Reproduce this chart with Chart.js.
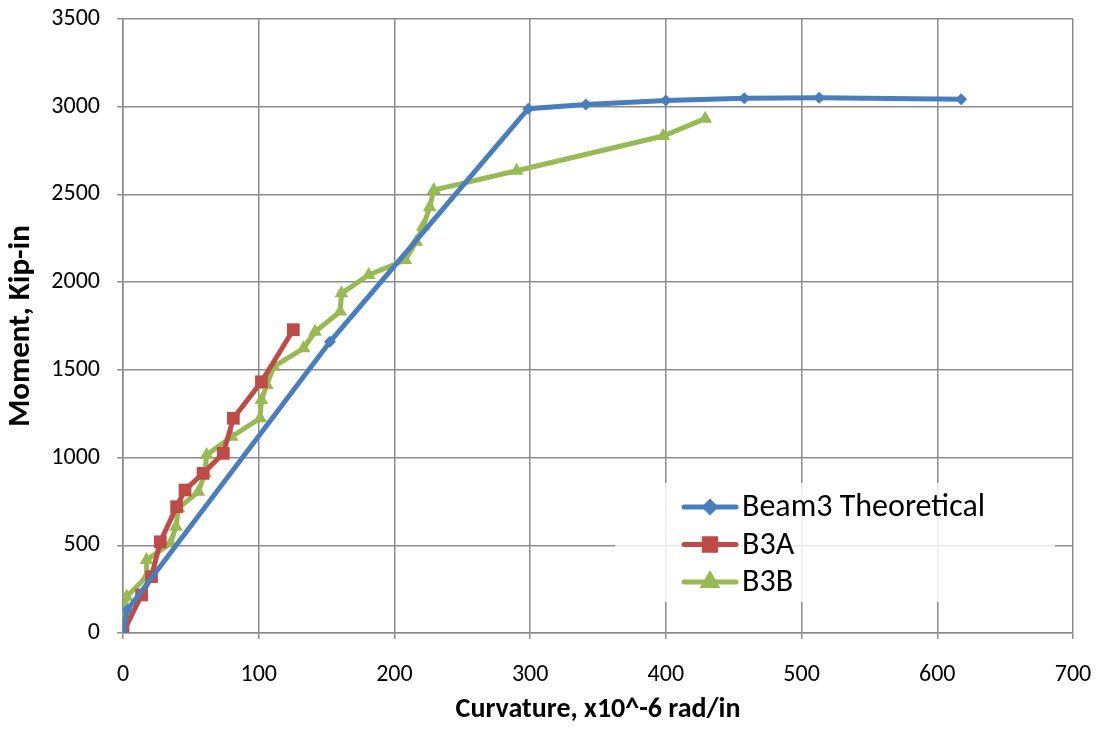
<!DOCTYPE html>
<html>
<head>
<meta charset="utf-8">
<script src="https://cdn.jsdelivr.net/npm/chart.js@4/dist/chart.umd.min.js"></script>
<style>
  html, body { margin: 0; padding: 0; background: #fff; }
  #wrap { width: 1103px; height: 729px; }
</style>
</head>
<body>
<div id="wrap"><canvas id="chart" width="1103" height="729"></canvas></div>
<script>
// Beam3 theoretical curve
const theoX = [0, 3, 152.5, 298.6, 341, 400, 457.8, 513, 617.6];
const theoY = [0, 130, 1660, 2989, 3013, 3035, 3048, 3051, 3042];
// B3A test
const b3aX = [0, 13.7, 21, 27.5, 39.5, 45.7, 59, 73.9, 81.3, 102, 125.5];
const b3aY = [0, 217, 321, 520, 720, 815, 910, 1024, 1224, 1432, 1729];
// B3B test
const b3bX = [0, 1.3, 2.7, 17.4, 17.4, 35, 39, 40.8, 55.5, 60.4, 61.6, 80, 101, 102, 106, 111,
              133, 141.5, 160, 161, 181, 208, 216, 221, 226, 229, 290, 398, 429];
const b3bY = [0, 93, 207, 321, 416, 511, 606, 711, 805, 910, 1015, 1119, 1224, 1328, 1414, 1518,
              1623, 1717, 1832, 1936, 2041, 2126, 2230, 2316, 2427, 2525, 2635, 2833, 2932];

const xTicks = [0, 100, 200, 300, 400, 500, 600, 700];
const yTicks = [0, 500, 1000, 1500, 2000, 2500, 3000, 3500];

const FONT = 'Carlito, Calibri, Lato, sans-serif';
const colors = { theo: '#4A7EBB', b3a: '#BE4B48', b3b: '#98B954', grid: '#8c8c8c' };

const pts = (xs, ys) => xs.map((x, i) => ({ x: x, y: ys[i] }));

const series = [
  { label: 'Beam3 Theoretical', data: pts(theoX, theoY), color: colors.theo, style: 'rectRot', radius: 6 },
  { label: 'B3A', data: pts(b3aX, b3aY), color: colors.b3a, style: 'rect', radius: 9 },
  { label: 'B3B', data: pts(b3bX, b3bY), color: colors.b3b, style: 'triangle', radius: 8 }
];

// legend drawn inside plot area, like the Excel chart
const insideLegend = {
  id: 'insideLegend',
  afterDatasetsDraw(chart) {
    const ctx = chart.ctx;
    const box = { x: 615, y: 483, w: 440, h: 119 };
    ctx.save();
    ctx.fillStyle = 'rgba(255,255,255,0.82)';
    ctx.fillRect(box.x, box.y, box.w, box.h);
    ctx.font = '32px ' + FONT;
    ctx.textBaseline = 'middle';
    series.forEach((s, i) => {
      const cy = box.y + 24 + i * 37.5;
      ctx.strokeStyle = s.color;
      ctx.lineWidth = 5;
      ctx.lineCap = 'round';
      ctx.beginPath();
      ctx.moveTo(684, cy);
      ctx.lineTo(736, cy);
      ctx.stroke();
      ctx.fillStyle = s.color;
      Chart.helpers.drawPoint(ctx, { pointStyle: s.style, radius: s.radius - 1, borderWidth: 1 }, 710, cy);
      ctx.fillStyle = '#000';
      ctx.fillText(s.label, 742, cy + 1);
    });
    ctx.restore();
  }
};

const plain = v => String(v);

new Chart(document.getElementById('chart'), {
  type: 'line',
  data: {
    datasets: series.map(s => ({
      label: s.label,
      data: s.data,
      borderColor: s.color,
      backgroundColor: s.color,
      borderWidth: 5,
      pointStyle: s.style,
      pointRadius: s.radius,
      pointBorderWidth: 0,
      pointHoverRadius: s.radius,
      tension: 0,
      fill: false
    }))
  },
  options: {
    responsive: false,
    animation: false,
    devicePixelRatio: 1,
    layout: { autoPadding: false, padding: { top: 19, right: 30, left: 0, bottom: 0 } },
    plugins: { legend: { display: false }, tooltip: { enabled: false } },
    scales: {
      x: {
        type: 'linear', min: 0, max: 700,
        afterBuildTicks: axis => { axis.ticks = xTicks.map(v => ({ value: v })); },
        afterFit: axis => { axis.height = 96; axis.paddingLeft = 0; axis.paddingRight = 0; },
        grid: { color: colors.grid, lineWidth: 1.5, tickLength: 6 },
        border: { color: colors.grid, width: 1.5 },
        ticks: { color: '#000', font: { family: FONT, size: 24 }, padding: 22, maxRotation: 0, callback: plain },
        title: { display: true, text: 'Curvature, x10^-6 rad/in', color: '#000',
                 font: { family: FONT, size: 28, weight: 'bold' }, padding: { top: 2, bottom: 2 } }
      },
      y: {
        type: 'linear', min: 0, max: 3500,
        afterBuildTicks: axis => { axis.ticks = yTicks.map(v => ({ value: v })); },
        afterFit: axis => { axis.width = 123; axis.paddingTop = 0; axis.paddingBottom = 0; },
        grid: { color: colors.grid, lineWidth: 1.5, tickLength: 6 },
        border: { color: colors.grid, width: 1.5 },
        ticks: { color: '#000', font: { family: FONT, size: 24 }, padding: 17, callback: plain },
        title: { display: true, text: 'Moment, Kip-in', color: '#000',
                 font: { family: FONT, size: 31, weight: 'bold' }, padding: { top: 3, bottom: 3 } }
      }
    }
  },
  plugins: [insideLegend]
});
</script>
</body>
</html>
